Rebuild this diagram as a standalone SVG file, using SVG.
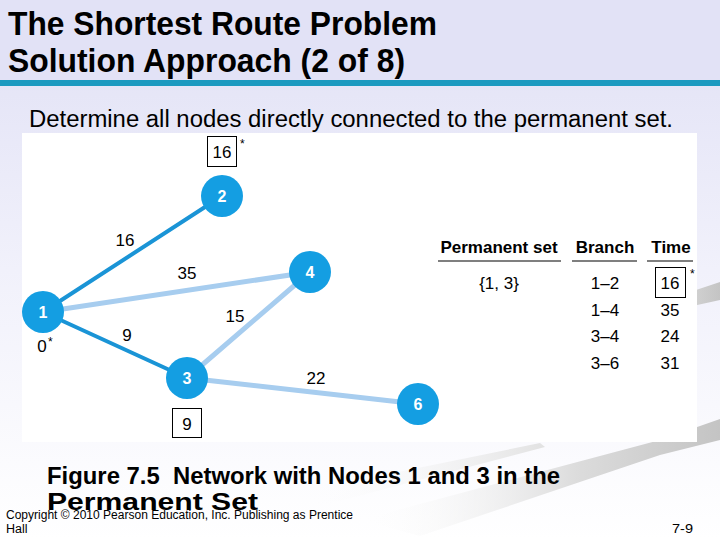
<svg xmlns="http://www.w3.org/2000/svg" width="720" height="540" viewBox="0 0 720 540">
<defs>
<linearGradient id="bg" x1="0" y1="0" x2="0" y2="1">
<stop offset="0" stop-color="#e0e0f5"/>
<stop offset="0.5" stop-color="#f1f1fb"/>
<stop offset="1" stop-color="#ffffff"/>
</linearGradient>
<linearGradient id="sw1" x1="0" y1="0" x2="1" y2="0">
<stop offset="0" stop-color="#ffffff" stop-opacity="0"/>
<stop offset="0.6" stop-color="#dcdcdc"/>
<stop offset="1" stop-color="#c4c4c4"/>
</linearGradient>
<linearGradient id="sw2" x1="0" y1="0" x2="1" y2="0">
<stop offset="0" stop-color="#ffffff" stop-opacity="0"/>
<stop offset="1" stop-color="#e2e2e2"/>
</linearGradient>
<style>
.t{font-family:"Liberation Sans",Arial,sans-serif;fill:#000}
.b{font-weight:bold}
.edge-d{stroke:#1a94d6;stroke-width:4;stroke-linecap:round}
.edge-l{stroke:#a7cdef;stroke-width:5;stroke-linecap:round}
.node{fill:#149ee2}
.nl{font-family:"Liberation Sans",Arial,sans-serif;font-weight:bold;font-size:16px;fill:#fff;text-anchor:middle}
.lb{font-family:"Liberation Sans",Arial,sans-serif;font-size:17px;fill:#000;text-anchor:middle}
.box{fill:#fff;stroke:#000;stroke-width:1}
.rule{stroke:#000;stroke-width:1.2}
</style>
</defs>
<rect x="0" y="0" width="720" height="540" fill="url(#bg)"/>
<rect x="0" y="0" width="720" height="80" fill="#e2e2f6"/>
<rect x="0" y="80" width="720" height="6" fill="#1c9ac0"/>
<!-- swooshes -->
<polygon points="600,322 720,282 720,300 620,322" fill="url(#sw1)"/>
<polygon points="360,520 660,440 720,419 720,440 660,455 420,536" fill="url(#sw1)"/>
<polygon points="300,492 540,443 545,447 320,506" fill="url(#sw2)"/>
<!-- figure area -->
<rect x="22" y="133" width="675" height="309" fill="#ffffff"/>

<text class="t b" x="8" y="35" font-size="33" textLength="429" lengthAdjust="spacingAndGlyphs">The Shortest Route Problem</text>
<text class="t b" x="8" y="72" font-size="33" textLength="397" lengthAdjust="spacingAndGlyphs">Solution Approach (2 of 8)</text>
<text class="t" x="29" y="127" font-size="23" textLength="644" lengthAdjust="spacingAndGlyphs">Determine all nodes directly connected to the permanent set.</text>

<g id="connectors">
<line class="edge-l" x1="43" y1="312" x2="310" y2="272"/>
<line class="edge-l" x1="187" y1="378" x2="310" y2="272"/>
<line class="edge-l" x1="187" y1="378" x2="418" y2="404"/>
<line class="edge-d" x1="43" y1="312" x2="222" y2="196"/>
<line class="edge-d" x1="43" y1="312" x2="187" y2="378"/>
<text class="lb" x="125" y="246">16</text>
<text class="lb" x="187" y="279">35</text>
<text class="lb" x="235" y="322">15</text>
<text class="lb" x="127" y="341">9</text>
<text class="lb" x="316" y="384">22</text>
</g>

<g id="node1">
<circle class="node" cx="43" cy="312" r="21"/>
<text class="nl" x="43" y="318">1</text>
<text class="lb" x="42" y="352">0</text>
<text class="t" x="48" y="346" font-size="12">*</text>
</g>
<g id="node2">
<circle class="node" cx="222" cy="196" r="21"/>
<text class="nl" x="222" y="202">2</text>
<rect class="box" x="207.5" y="136.5" width="29" height="30"/>
<text class="lb" x="222" y="158">16</text>
<text class="t" x="240" y="148" font-size="12">*</text>
</g>
<g id="node3">
<circle class="node" cx="187" cy="378" r="21"/>
<text class="nl" x="187" y="384">3</text>
<rect class="box" x="172.5" y="408.5" width="29" height="29"/>
<text class="lb" x="187" y="430">9</text>
</g>
<g id="node4">
<circle class="node" cx="310" cy="272" r="21"/>
<text class="nl" x="310" y="278">4</text>
</g>
<g id="node6">
<circle class="node" cx="418" cy="404" r="21"/>
<text class="nl" x="418" y="410">6</text>
</g>

<g id="table">
<text class="t b" x="499" y="253" font-size="17" text-anchor="middle">Permanent set</text>
<text class="t b" x="605" y="253" font-size="17" text-anchor="middle">Branch</text>
<text class="t b" x="671" y="253" font-size="17" text-anchor="middle">Time</text>
<line class="rule" x1="438" y1="261" x2="561" y2="261"/>
<line class="rule" x1="572" y1="261" x2="637" y2="261"/>
<line class="rule" x1="647" y1="261" x2="693" y2="261"/>
<text class="lb" x="499" y="289">{1, 3}</text>
<text class="lb" x="605" y="289">1–2</text>
<text class="lb" x="605" y="316">1–4</text>
<text class="lb" x="605" y="342">3–4</text>
<text class="lb" x="605" y="369">3–6</text>
<rect class="box" x="655.5" y="267.5" width="30" height="30"/>
<text class="lb" x="670" y="289">16</text>
<text class="lb" x="670" y="316">35</text>
<text class="lb" x="670" y="342">24</text>
<text class="lb" x="670" y="369">31</text>
<text class="t" x="690" y="278" font-size="12">*</text>
</g>

<text class="t b" x="47" y="484" font-size="23" textLength="513" lengthAdjust="spacingAndGlyphs">Figure 7.5&#160; Network with Nodes 1 and 3 in the</text>
<text class="t b" x="47" y="510" font-size="23" textLength="211" lengthAdjust="spacingAndGlyphs">Permanent Set</text>
<text class="t" x="6" y="519" font-size="12.5" textLength="347" lengthAdjust="spacingAndGlyphs">Copyright © 2010 Pearson Education, Inc. Publishing as Prentice</text>
<text class="t" x="6" y="533" font-size="12.5">Hall</text>
<text class="t" x="672" y="533" font-size="12.5" textLength="21" lengthAdjust="spacingAndGlyphs">7-9</text>
</svg>
